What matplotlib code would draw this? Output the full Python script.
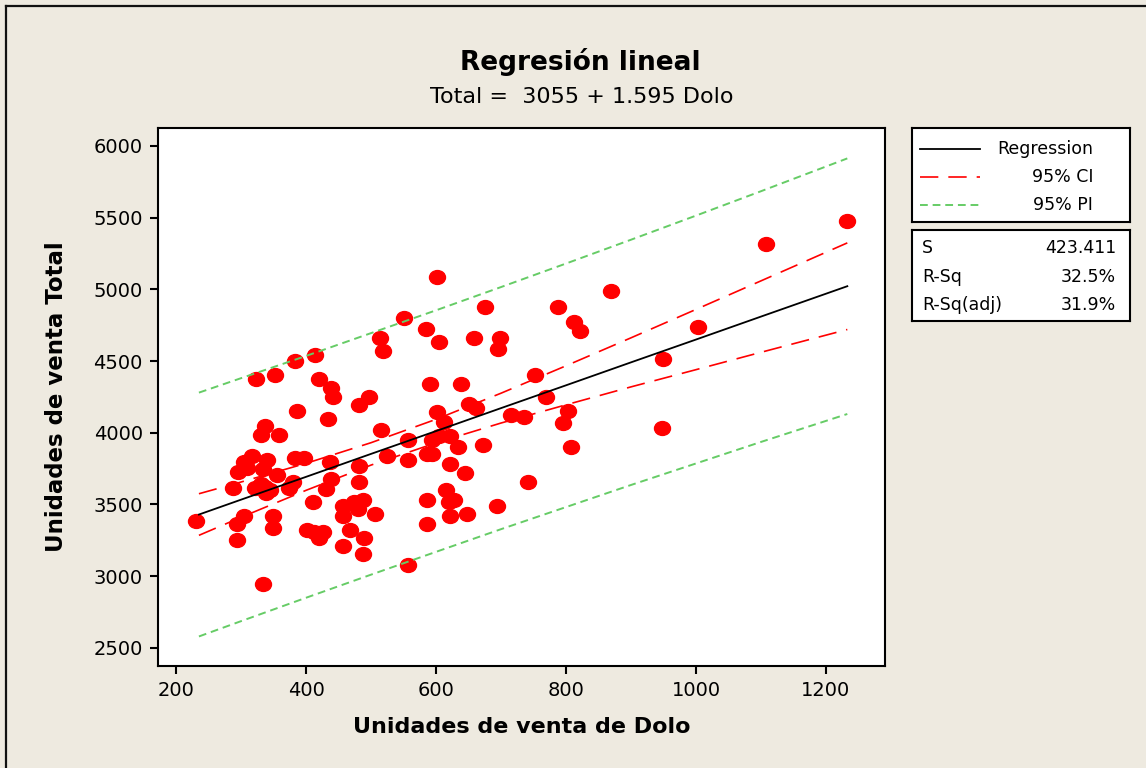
import numpy as np
import matplotlib
matplotlib.use('Agg')
import matplotlib.pyplot as plt
from matplotlib.path import Path


BG = '#EEEAE0'
RED = '#FF0000'
GREEN = '#66CC66'

# puntos (Dolo, Total)
dolo = [231, 334, 323, 352, 383, 414, 420, 439, 442, 497, 482, 386, 433, 337,
        331, 358, 513, 519, 551, 516, 557, 316, 304, 295, 309, 340, 333, 355,
        383, 396, 436, 482, 524, 557, 287, 321, 336, 344, 338, 330, 380, 374,
        439, 430, 482, 411, 457, 473, 488, 480, 457, 506, 305, 294, 349, 349,
        294, 401, 412, 420, 426, 467, 457, 489, 488, 557, 602, 676, 788, 870,
        584, 605, 658, 698, 695, 812, 821, 590, 639, 753, 769, 651, 661, 602,
        612, 716, 735, 803, 796, 594, 605, 621, 633, 673, 808, 586, 594, 621,
        644, 741, 615, 586, 620, 627, 694, 621, 648, 586, 1232, 1108, 1003,
        950, 948]
total = [3382, 2947, 4375, 4405, 4502, 4544, 4375, 4310, 4250, 4252, 4197,
         4153, 4099, 4046, 3986, 3988, 4658, 4572, 4803, 4016, 3947, 3835,
         3796, 3727, 3755, 3808, 3750, 3708, 3824, 3824, 3796, 3766, 3838,
         3808, 3616, 3616, 3623, 3599, 3580, 3640, 3658, 3616, 3681, 3611,
         3658, 3519, 3491, 3519, 3530, 3472, 3421, 3437, 3419, 3361, 3419,
         3333, 3252, 3322, 3306, 3269, 3310, 3322, 3211, 3269, 3155, 3075,
         5085, 4877, 4877, 4988, 4727, 4630, 4658, 4658, 4583, 4769, 4711,
         4338, 4342, 4405, 4252, 4201, 4171, 4144, 4074, 4125, 4113, 4155,
         4069, 3947, 3977, 3977, 3900, 3912, 3901, 3849, 3849, 3780, 3720,
         3658, 3599, 3530, 3519, 3530, 3491, 3419, 3431, 3363, 5474, 5319,
         4738, 4514, 4032]

# recta y bandas
band_x = [235, 300, 400, 500, 600, 700, 800, 900, 1000, 1100, 1233]
fit_y = [3430, 3534, 3693, 3853, 4012, 4172, 4331, 4491, 4650, 4810, 5022]
ci_hi = [3575, 3657, 3787, 3931, 4094, 4276, 4467, 4662, 4860, 5059, 5324]
ci_lo = [3285, 3411, 3599, 3775, 3930, 4068, 4195, 4320, 4440, 4561, 4720]
pi_hi = [4280, 4381, 4536, 4695, 4854, 5016, 5180, 5346, 5514, 5684, 5913]
pi_lo = [2580, 2687, 2850, 3011, 3170, 3328, 3482, 3636, 3786, 3936, 4131]

x_ticks = [200, 400, 600, 800, 1000, 1200]
y_ticks = [2500, 3000, 3500, 4000, 4500, 5000, 5500, 6000]

stats = [('S', '423.411'), ('R-Sq', '32.5%'), ('R-Sq(adj)', '31.9%')]

plt.rcParams['font.family'] = ['DejaVu Sans']

fig = plt.figure(figsize=(11.46, 7.68), dpi=100, facecolor=BG)
W, H = 1146, 768


def fx(px):
    return px / W


def fy(py):
    return 1 - py / H


# marco exterior
fig.add_artist(plt.Line2D([fx(6), fx(6)], [fy(6), 0], color='#111111', lw=1.6,
                          transform=fig.transFigure))
fig.add_artist(plt.Line2D([fx(6), 1], [fy(6), fy(6)], color='#111111', lw=1.6,
                          transform=fig.transFigure))

ax = fig.add_axes([fx(158), fy(666), fx(885) - fx(158), fy(128) - fy(666)])
ax.set_facecolor('white')

ell = Path(Path.unit_circle().vertices * np.array([1.15, 1.0]), Path.unit_circle().codes)
ax.plot(dolo, total, linestyle='none', marker=ell, ms=11.5, color=RED, mec=RED, zorder=3)

ax.plot(band_x, fit_y, color='black', lw=1.3, zorder=4)
ax.plot(band_x, ci_hi, color=RED, lw=1.2, dashes=(11, 6), zorder=4)
ax.plot(band_x, ci_lo, color=RED, lw=1.2, dashes=(11, 6), zorder=4)
ax.plot(band_x, pi_hi, color=GREEN, lw=1.4, dashes=(4, 2.5), zorder=4)
ax.plot(band_x, pi_lo, color=GREEN, lw=1.4, dashes=(4, 2.5), zorder=4)

ax.set_xlim(172, 1291)
ax.set_ylim(2374, 6125)
ax.set_xticks(x_ticks)
ax.set_yticks(y_ticks)
ax.tick_params(direction='out', length=6, width=1.5, labelsize=14, pad=5)
for s in ax.spines.values():
    s.set_linewidth(1.5)

ax.set_xlabel('Unidades de venta de Dolo', fontsize=16, fontweight='bold', labelpad=12)
ax.set_ylabel('Unidades de venta Total', fontsize=16.5, fontweight='bold', labelpad=18)

fig.text(fx(580), fy(62), 'Regresión lineal', fontsize=19, fontweight='bold',
         ha='center', va='center')
fig.text(fx(582), fy(97), 'Total =  3055 + 1.595 Dolo', fontsize=16,
         ha='center', va='center')

# cuadro de leyenda
lg = fig.add_axes([fx(912), fy(222), fx(1130) - fx(912), fy(128) - fy(222)])
lg.set_xlim(912, 1130)
lg.set_ylim(222, 128)
lg.set_xticks([])
lg.set_yticks([])
for s in lg.spines.values():
    s.set_linewidth(1.5)
leg_rows = [('Regression', 'black', None, 1.3),
            ('95% CI', RED, (11, 6), 1.2),
            ('95% PI', GREEN, (4, 2.5), 1.4)]
for i, (lab, col, ds, lw) in enumerate(leg_rows):
    yy = 149 + i * 28
    ln, = lg.plot([920, 980], [yy, yy], color=col, lw=lw)
    if ds:
        ln.set_dashes(ds)
    lg.text(1093, yy, lab, ha='right', va='center', fontsize=12.5)

# cuadro de estadisticos
st = fig.add_axes([fx(912), fy(321), fx(1130) - fx(912), fy(230) - fy(321)])
st.set_xlim(912, 1130)
st.set_ylim(321, 230)
st.set_xticks([])
st.set_yticks([])
for s in st.spines.values():
    s.set_linewidth(1.5)
for i, (k, v) in enumerate(stats):
    yy = 248 + i * 28.5
    st.text(922, yy, k, ha='left', va='center', fontsize=12.5)
    st.text(1116, yy, v, ha='right', va='center', fontsize=12.5)

fig.savefig('out.png', dpi=100, facecolor=BG)
